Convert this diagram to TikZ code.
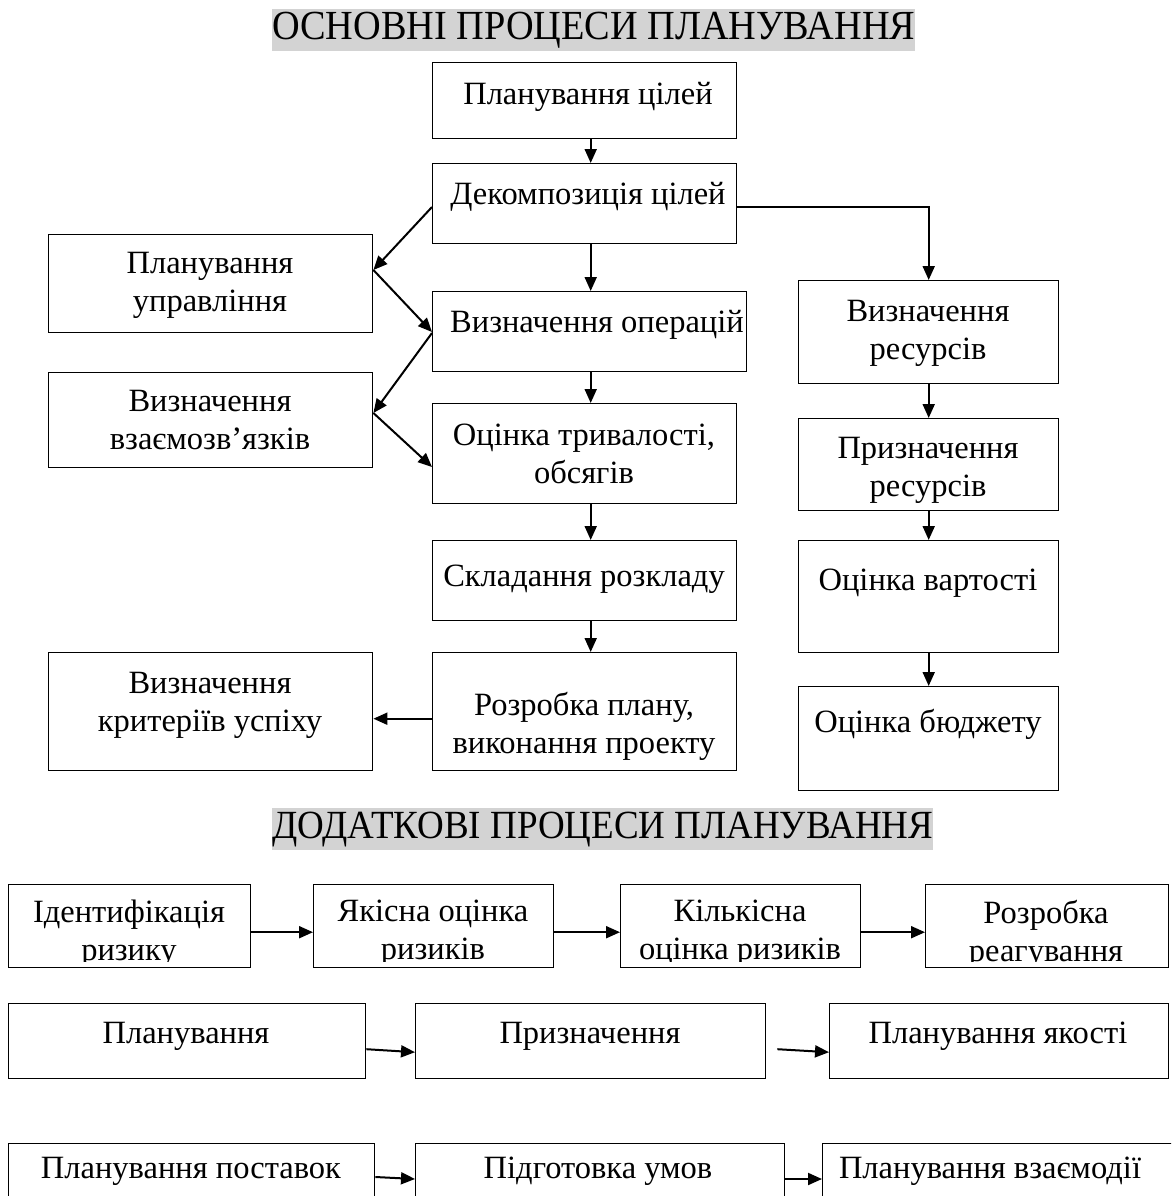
\documentclass[tikz,border=0pt]{standalone}
\usepackage{fontspec}
\setmainfont{Liberation Serif}
\usetikzlibrary{arrows.meta,calc}
\definecolor{titlegray}{RGB}{211,211,211}
\begin{document}
\begin{tikzpicture}[x=1pt,y=-1pt,
  box/.style={draw,line width=1.4pt,inner sep=0pt,anchor=north west},
  txt/.style={font=\fontsize{32.5}{38}\selectfont,align=center,inner sep=0pt,anchor=north},
  arr/.style={line width=2pt,-{Triangle[length=14pt,width=12pt]}},
  ttl/.style={fill=titlegray,inner sep=0pt,minimum height=42pt,anchor=north west}]
\useasboundingbox (0,0) rectangle (1171,1196);
\clip (0,0) rectangle (1171,1196);
% titles
\node[ttl,minimum width=636pt] (t1) at (272,9) {\scalebox{1}[1.08]{\fontsize{38.3}{40}\selectfont ОСНОВНІ ПРОЦЕСИ ПЛАНУВАННЯ}};
\node[ttl,minimum width=658pt] (t2) at (272,808) {\scalebox{1}[1.08]{\fontsize{37}{40}\selectfont ДОДАТКОВІ ПРОЦЕСИ ПЛАНУВАННЯ}};
% main column
\node[box,minimum width=304pt,minimum height=76pt] (pc) at (432,62) {};
\node[box,minimum width=304pt,minimum height=80pt] (dek) at (432,163) {};
\node[box,minimum width=314pt,minimum height=80pt] (vo) at (432,291) {};
\node[box,minimum width=304pt,minimum height=100pt] (ot) at (432,403) {};
\node[box,minimum width=304pt,minimum height=80pt] (sr) at (432,540) {};
\node[box,minimum width=304pt,minimum height=118pt] (rp) at (432,652) {};
% left column
\node[box,minimum width=324pt,minimum height=98pt] (pu) at (48,234) {};
\node[box,minimum width=324pt,minimum height=95pt] (vv) at (48,372) {};
\node[box,minimum width=324pt,minimum height=118pt] (vk) at (48,652) {};
% right column
\node[box,minimum width=260pt,minimum height=103pt] (vr) at (798,280) {};
\node[box,minimum width=260pt,minimum height=92pt] (pr) at (798,418) {};
\node[box,minimum width=260pt,minimum height=112pt] (ov) at (798,540) {};
\node[box,minimum width=260pt,minimum height=104pt] (ob) at (798,686) {};
% texts main
\node[txt] (pct) at (588,82) {Планування цілей};
\node[txt] (dekt) at (588,182) {Декомпозиція цілей};
\node[txt] (vot) at (597,310) {Визначення операцій};
\node[txt] (ott) at (584,424) {Оцінка тривалості,\\обсягів};
\node[txt] (srt) at (584,565) {Складання розкладу};
\node[txt] (rpt) at (584,692) {Розробка плану,\\виконання проекту};
\node[txt] (put) at (210,252) {Планування\\управління};
\node[txt] (vvt) at (210,390) {Визначення\\взаємозв’язків};
\node[txt] (vkt) at (210,672) {Визначення\\критеріїв успіху};
\node[txt] (vrt) at (928,300) {Визначення\\ресурсів};
\node[txt] (prt) at (928,437) {Призначення\\ресурсів};
\node[txt] (ovt) at (928,569) {Оцінка вартості};
\node[txt] (obt) at (928,709) {Оцінка бюджету};
% arrows main
\draw[arr] ($(pc.south)+(6,0)$) -- ($(dek.north)+(6,0)$);
\draw[arr] ($(dek.south)+(6,0)$) -- ($(vo.north)+(1,0)$);
\draw[arr] ($(vo.south)+(1,0)$) -- ($(ot.north)+(6,0)$);
\draw[arr] ($(ot.south)+(6,0)$) -- ($(sr.north)+(6,0)$);
\draw[arr] ($(sr.south)+(6,0)$) -- ($(rp.north)+(6,0)$);
\draw[arr] ($(rp.west)+(0,7)$) -- ($(vk.east)+(0,7)$);
\draw[arr] ($(dek.east)+(0,3)$) -| (vr.north);
\draw[arr] (vr.south) -- (pr.north);
\draw[arr] (pr.south) -- (ov.north);
\draw[arr] (ov.south) -- (ob.north);
\draw[arr] ($(dek.north west)+(0,44)$) -- ($(pu.north east)+(0,36)$);
\draw[arr] ($(pu.north east)+(0,36)$) -- ($(vo.north west)+(0,41)$);
\draw[arr] ($(vo.north west)+(0,42)$) -- ($(vv.north east)+(0,41)$);
\draw[arr] ($(vv.north east)+(0,41)$) -- ($(ot.north west)+(0,64)$);
% row 1
\node[box,minimum width=242pt,minimum height=83pt] (r1a) at (8,884) {};
\node[box,minimum width=240pt,minimum height=83pt] (r1b) at (313,884) {};
\node[box,minimum width=240pt,minimum height=83pt] (r1c) at (620,884) {};
\node[box,minimum width=243pt,minimum height=83pt] (r1d) at (925,884) {};
\begin{scope}
\clip (0,884) rectangle (1171,961);
\node[txt] (r1at) at (129,900) {Ідентифікація\\ризику};
\node[txt] (r1bt) at (433,900) {Якісна оцінка\\ризиків};
\node[txt] (r1ct) at (740,900) {Кількісна\\оцінка ризиків};
\node[txt] (r1dt) at (1046,900) {Розробка\\реагування};
\end{scope}
\draw[arr] ($(r1a.east)+(0,6)$) -- ($(r1b.west)+(0,6)$);
\draw[arr] ($(r1b.east)+(0,6)$) -- ($(r1c.west)+(0,6)$);
\draw[arr] ($(r1c.east)+(0,6)$) -- ($(r1d.west)+(0,6)$);
% row 2
\node[box,minimum width=357pt,minimum height=75pt] (r2a) at (8,1003) {};
\node[box,minimum width=350pt,minimum height=75pt] (r2b) at (415,1003) {};
\node[box,minimum width=339pt,minimum height=75pt] (r2c) at (829,1003) {};
\node[txt] (r2at) at (186,1022) {Планування};
\node[txt] (r2bt) at (590,1022) {Призначення};
\node[txt] (r2ct) at (998,1022) {Планування якості};
\draw[arr] ($(r2a.east)+(0,8)$) -- ($(r2b.west)+(0,11)$);
\draw[arr] ($(r2b.east)+(11,8)$) -- ($(r2c.west)+(0,11)$);
% row 3
\node[box,minimum width=366pt,minimum height=80pt] (r3a) at (8,1143) {};
\node[box,minimum width=369pt,minimum height=80pt] (r3b) at (415,1143) {};
\node[box,minimum width=360pt,minimum height=80pt] (r3c) at (822,1143) {};
\node[txt] (r3at) at (191,1157) {Планування поставок};
\node[txt] (r3bt) at (598,1157) {Підготовка умов};
\node[txt] (r3ct) at (990,1157) {Планування взаємодії};
\coordinate (a3) at ($(r3a.north east)+(0,34)$);
\coordinate (b3) at ($(r3b.north west)+(0,36)$);
\coordinate (c3) at ($(r3b.north east)+(0,36)$);
\coordinate (d3) at ($(r3c.north west)+(0,36)$);
\draw[arr] (a3) -- (b3);
\draw[arr] (c3) -- (d3);
\end{tikzpicture}
\end{document}
